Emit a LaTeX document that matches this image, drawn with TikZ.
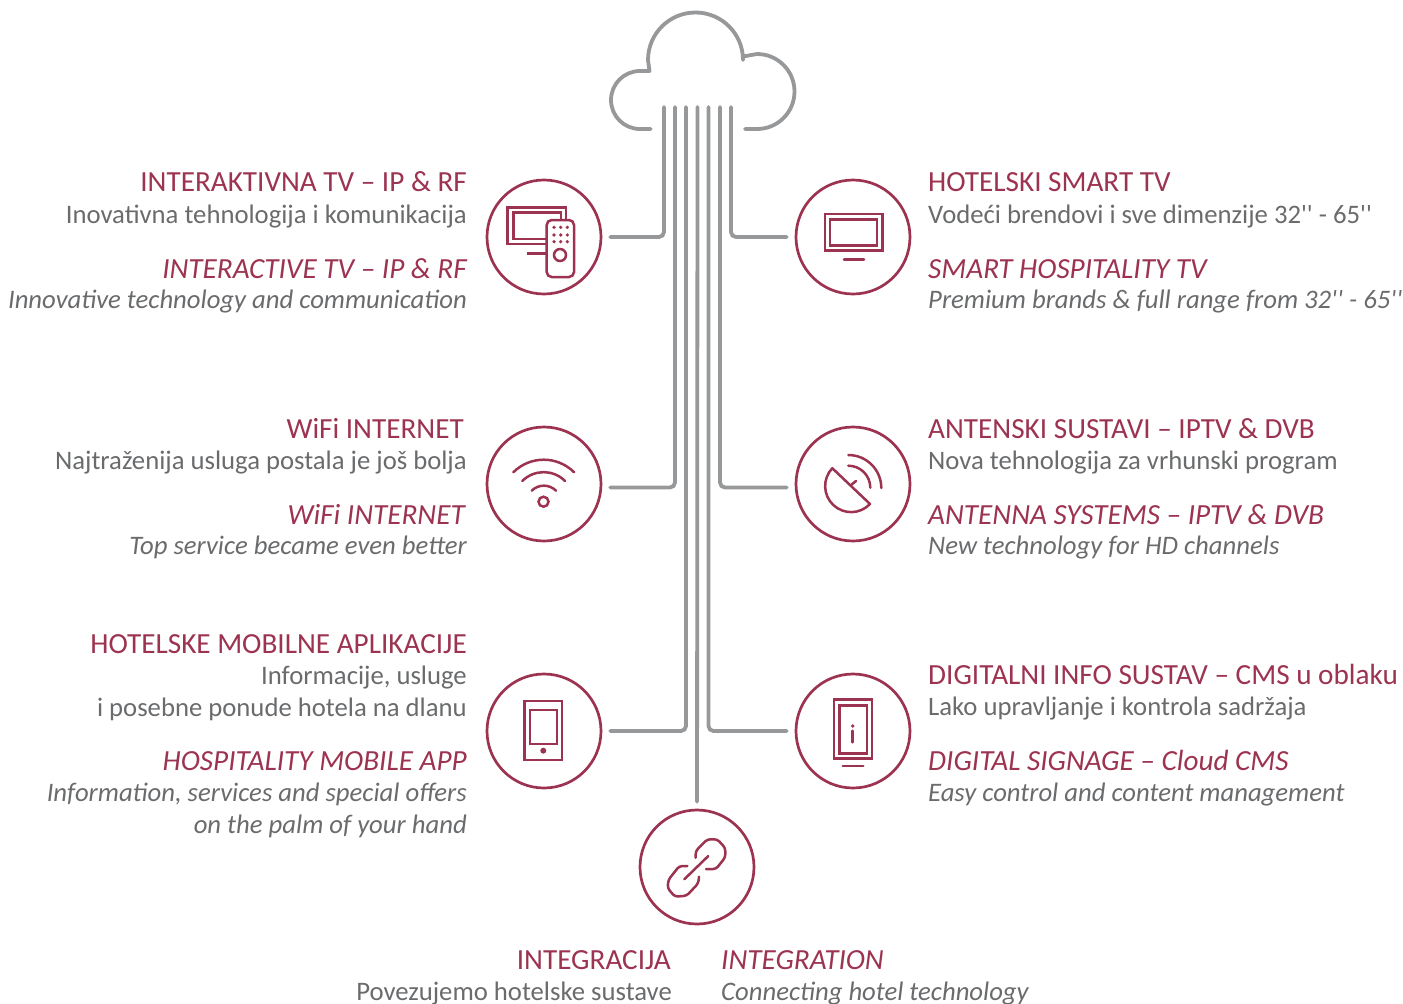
\documentclass[tikz,border=0pt]{standalone}
\usepackage{fontspec}
\setmainfont{Carlito}
\newfontfamily\tickfont{Carlito}
\usepackage{tikz}
\newcommand{\ticks}[0] {{\tickfont''}}
\definecolor{wine}{HTML}{9C3350}
\definecolor{wire}{HTML}{97989A}
\definecolor{copy}{HTML}{6A6B6D}
\tikzset{
  ring/.style={shape=circle,draw=wine,line width=2.7pt,minimum size=114pt,inner sep=0pt},
  icon/.style={draw=wine,line width=2.5pt,line cap=round},
  wireline/.style={draw=wire,line width=3.8pt,line cap=round,rounded corners=5pt},
  headl/.style={anchor=base east,text=wine,font=\fontsize{29.2}{29}\selectfont,inner sep=0pt},
  headr/.style={anchor=base west,text=wine,font=\fontsize{29.2}{29}\selectfont,inner sep=0pt},
  textl/.style={anchor=base east,text=copy,font=\fontsize{26.7}{27}\selectfont,inner sep=0pt},
  textr/.style={anchor=base west,text=copy,font=\fontsize{26.7}{27}\selectfont,inner sep=0pt},
  headli/.style={headl,font=\fontsize{29.2}{29}\selectfont\itshape},
  headri/.style={headr,font=\fontsize{29.2}{29}\selectfont\itshape},
  textli/.style={textl,font=\fontsize{26.7}{27}\selectfont\itshape},
  textri/.style={textr,font=\fontsize{26.7}{27}\selectfont\itshape}
}

\begin{document}
\begin{tikzpicture}[x=1pt,y=1pt]
	\useasboundingbox (0,0) rectangle (1403,-1004);

	%circles
	\node[ring] (itv) at (544,-237) {};
	\node[ring] (smart) at (853,-237) {};
	\node[ring] (wifi) at (544,-484) {};
	\node[ring] (dish) at (853,-484) {};
	\node[ring] (mobile) at (544,-731) {};
	\node[ring] (signage) at (853,-731) {};
	\node[ring] (link) at (697,-867) {};

	%cloud
	\draw[draw=wire,line width=3.8pt,line cap=round,line join=round]
		(650.7,-129) -- (640,-129) arc[start angle=270,end angle=90,radius=29] -- (649.5,-71)
		-- (648,-60) arc[start angle=180,end angle=0,radius=47.5] -- (743,-56.5)
		-- (757,-54) arc[start angle=90,end angle=-90,radius=37.5] -- (745,-129);

	%lines out of the cloud
	\coordinate (top1) at (664,-107);
	\coordinate (top2) at (675,-107);
	\coordinate (top3) at (686,-107);
	\coordinate (top4) at (697.5,-107);
	\coordinate (top5) at (708.5,-107);
	\coordinate (top6) at (720,-107);
	\coordinate (top7) at (731,-107);
	\draw[wireline,shorten >=8pt] (top1) |- (itv);
	\draw[wireline,shorten >=8pt] (top2) |- ([yshift=-3.5pt]wifi.east);
	\draw[wireline,shorten >=8pt] (top3) |- (mobile);
	\draw[wireline,shorten >=7pt] (top4) -- (link);
	\draw[wireline,shorten >=8pt] (top5) |- (signage);
	\draw[wireline,shorten >=8pt] (top6) |- ([yshift=-3.5pt]dish.west);
	\draw[wireline,shorten >=8pt] (top7) |- (smart);

	%tv and remote
	\draw[icon,line cap=butt] (546.7,-244) -- (507.7,-244) -- (507.7,-207.7) -- (566,-207.7) -- (566,-220);
	\draw[icon,line cap=butt] (546.7,-239) -- (513.3,-239) -- (513.3,-212.7) -- (561,-212.7) -- (561,-220);
	\draw[icon,line cap=butt] (526.7,-253.7) -- (546.7,-253.7);
	\draw[icon,rounded corners=5pt] (546.7,-220) rectangle (574,-277);
	\foreach \px in {554,560.7,567.3}
		\foreach \py in {-227.3,-235,-241.7}
			\fill[wine] (\px,\py) circle (1.8);
	\draw[icon] (560,-255) circle (6);

	%tv
	\draw[icon] (825,-214) rectangle (882.7,-250.7);
	\draw[icon] (830,-219.3) rectangle (877,-245.7);
	\draw[icon] (844,-259.3) -- (864,-259.3);

	%wifi
	\draw[icon] (513.3,-472.3) arc[start angle=135,end angle=45,radius=43];
	\draw[icon] (522.3,-481) arc[start angle=135,end angle=45,radius=30.2];
	\draw[icon] (531.7,-490.7) arc[start angle=135,end angle=45,radius=17.2];
	\draw[icon] (543.5,-501.7) circle (5);

	%dish
	\draw[icon,line join=round] (870,-504) arc[start angle=-43.5,end angle=-223.5,radius=26] -- cycle;
	\draw[icon] (851,-485) -- (856,-481);
	\draw[icon] (848.3,-465.7) arc[start angle=90,end angle=0,radius=22];
	\draw[icon] (848.3,-455) arc[start angle=90,end angle=0,radius=33];

	%phone
	\draw[icon] (524.7,-701) rectangle (562,-760);
	\draw[icon] (530,-710) rectangle (557,-744);
	\fill[wine] (543.3,-750.7) circle (3);

	%info panel
	\draw[icon] (834,-699.7) rectangle (872,-758.3);
	\draw[icon] (839.3,-705.3) rectangle (867,-753.3);
	\fill[wine] (852.7,-726) circle (1.8);
	\draw[icon] (852.7,-730.7) -- (852.7,-742.3);
	\draw[icon] (842.7,-766) -- (863.3,-766);

	%chain
	\draw[icon,rounded corners=3pt] (695.7,-857.7) -- (695.7,-851) -- (707.3,-839.3) -- (717.3,-839.3)
		-- (725.3,-848) -- (725.3,-857.3) -- (716,-869) -- (706,-869);
	\draw[icon,rounded corners=3pt] (699,-876.7) -- (698.3,-883.3) -- (686.7,-895.7) -- (675,-896.7)
		-- (667.7,-888.3) -- (668.3,-880) -- (679.3,-866) -- (687.3,-866);
	\draw[icon] (684.3,-879.3) -- (708.3,-856);

	%left texts
	\node[headl] (itvhr) at (467,-191) {INTERAKTIVNA TV – IP \& RF};
	\node[textl] (itvtr) at (467,-223) {Inovativna tehnologija i komunikacija};
	\node[headli] (itvhe) at (467,-278) {INTERACTIVE TV – IP \& RF};
	\node[textli] (itvte) at (467,-308) {Innovative technology and communication};

	\node[headl] (wifihr) at (464,-438) {WiFi INTERNET};
	\node[textl] (wifitr) at (467,-469) {Najtraženija usluga postala je još bolja};
	\node[headli] (wifihe) at (465,-524) {WiFi INTERNET};
	\node[textli] (wifite) at (467,-554) {Top service became even better};

	\node[headl] (mobhr) at (467,-653) {HOTELSKE MOBILNE APLIKACIJE};
	\node[textl] (mobtra) at (467,-684) {Informacije, usluge};
	\node[textl] (mobtrb) at (467,-716) {i posebne ponude hotela na dlanu};
	\node[headli] (mobhe) at (467,-770) {HOSPITALITY MOBILE APP};
	\node[textli] (mobtea) at (467,-801) {Information, services and special offers};
	\node[textli] (mobteb) at (467,-833) {on the palm of your hand};

	%right texts
	\node[headr] (smarthr) at (928,-191) {HOTELSKI SMART TV};
	\node[textr] (smarttr) at (928,-223) {Vodeći brendovi i sve dimenzije 32\ticks{} - 65\ticks};
	\node[headri] (smarthe) at (928,-278) {SMART HOSPITALITY TV};
	\node[textri] (smartte) at (928,-308) {Premium brands \& full range from 32\ticks{} - 65\ticks};

	\node[headr] (dishhr) at (928,-438) {ANTENSKI SUSTAVI – IPTV \& DVB};
	\node[textr] (dishtr) at (928,-469) {Nova tehnologija za vrhunski program};
	\node[headri] (dishhe) at (928,-524) {ANTENNA SYSTEMS – IPTV \& DVB};
	\node[textri] (dishte) at (928,-554) {New technology for HD channels};

	\node[headr] (signhr) at (928,-684) {DIGITALNI INFO SUSTAV – CMS u oblaku};
	\node[textr] (signtr) at (928,-715) {Lako upravljanje i kontrola sadržaja};
	\node[headri] (signhe) at (928,-770) {DIGITAL SIGNAGE – Cloud CMS};
	\node[textri] (signte) at (928,-801) {Easy control and content management};

	%bottom texts
	\node[headl] (linkhr) at (671,-969) {INTEGRACIJA};
	\node[textl] (linktr) at (672,-1000) {Povezujemo hotelske sustave};
	\node[headri] (linkhe) at (721,-969) {INTEGRATION};
	\node[textri] (linkte) at (721,-1000) {Connecting hotel technology};
\end{tikzpicture}
\end{document}
